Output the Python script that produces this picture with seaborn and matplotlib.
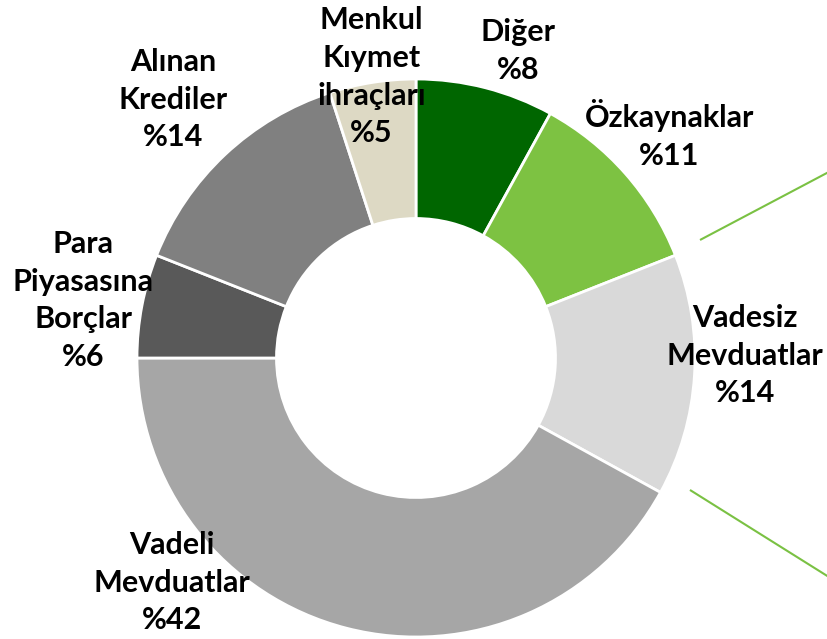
import matplotlib
matplotlib.use("Agg")
import matplotlib.pyplot as plt
import seaborn as sns
import numpy as np

# Veriler
labels = ["Diğer", "Özkaynaklar", "Vadesiz\nMevduatlar", "Vadeli\nMevduatlar",
          "Para\nPiyasasına\nBorçlar", "Alınan\nKrediler", "Menkul\nKıymet\nihraçları"]
values = [8, 11, 14, 42, 6, 14, 5]
colors = ["#006600", "#7DC242", "#D9D9D9", "#A6A6A6", "#595959", "#808080", "#DDD9C4"]

sns.set_style("white")
plt.rcParams['font.family'] = ['Lato', 'DejaVu Sans']

fig = plt.figure(figsize=(8.27, 6.39), dpi=100)
ax = fig.add_axes([0, 0, 1, 1])

wedges, _ = ax.pie(values, colors=colors, startangle=90, counterclock=False,
                   radius=1.0, wedgeprops=dict(width=0.5, edgecolor="white", linewidth=2))

# etiket konumları (orta açıya göre yarıçap, ve elle kaydırma)
label_r = [1.16, 1.21, 1.18, 1.19, 1.21, 1.27, 1.02]
angle_shift = [-4, 0, 4, -33, 1, 0, 0]
total = sum(values)
start = 90.0
for i, (w, lab, v) in enumerate(zip(wedges, labels, values)):
    mid = start - v / total * 360 / 2
    start -= v / total * 360
    a = np.deg2rad(mid + angle_shift[i])
    x, y = label_r[i] * np.cos(a), label_r[i] * np.sin(a)
    ax.text(x, y, f"{lab}\n%{v}", ha="center", va="center", fontsize=22,
            fontweight="bold", linespacing=1.42, color="black")

# sağdaki bağlantı çizgileri
ax.plot([1.018, 1.48], [0.423, 0.667], color="#7AC143", lw=1.5, solid_capstyle="butt")
ax.plot([0.982, 1.48], [-0.473, -0.785], color="#7AC143", lw=1.5, solid_capstyle="butt")

ax.set_xlim(-416 / 279, (827 - 416) / 279)
ax.set_ylim(-(639 - 358) / 279, 358 / 279)
ax.set_aspect("equal")
ax.axis("off")

fig.savefig("out.png", dpi=100)
